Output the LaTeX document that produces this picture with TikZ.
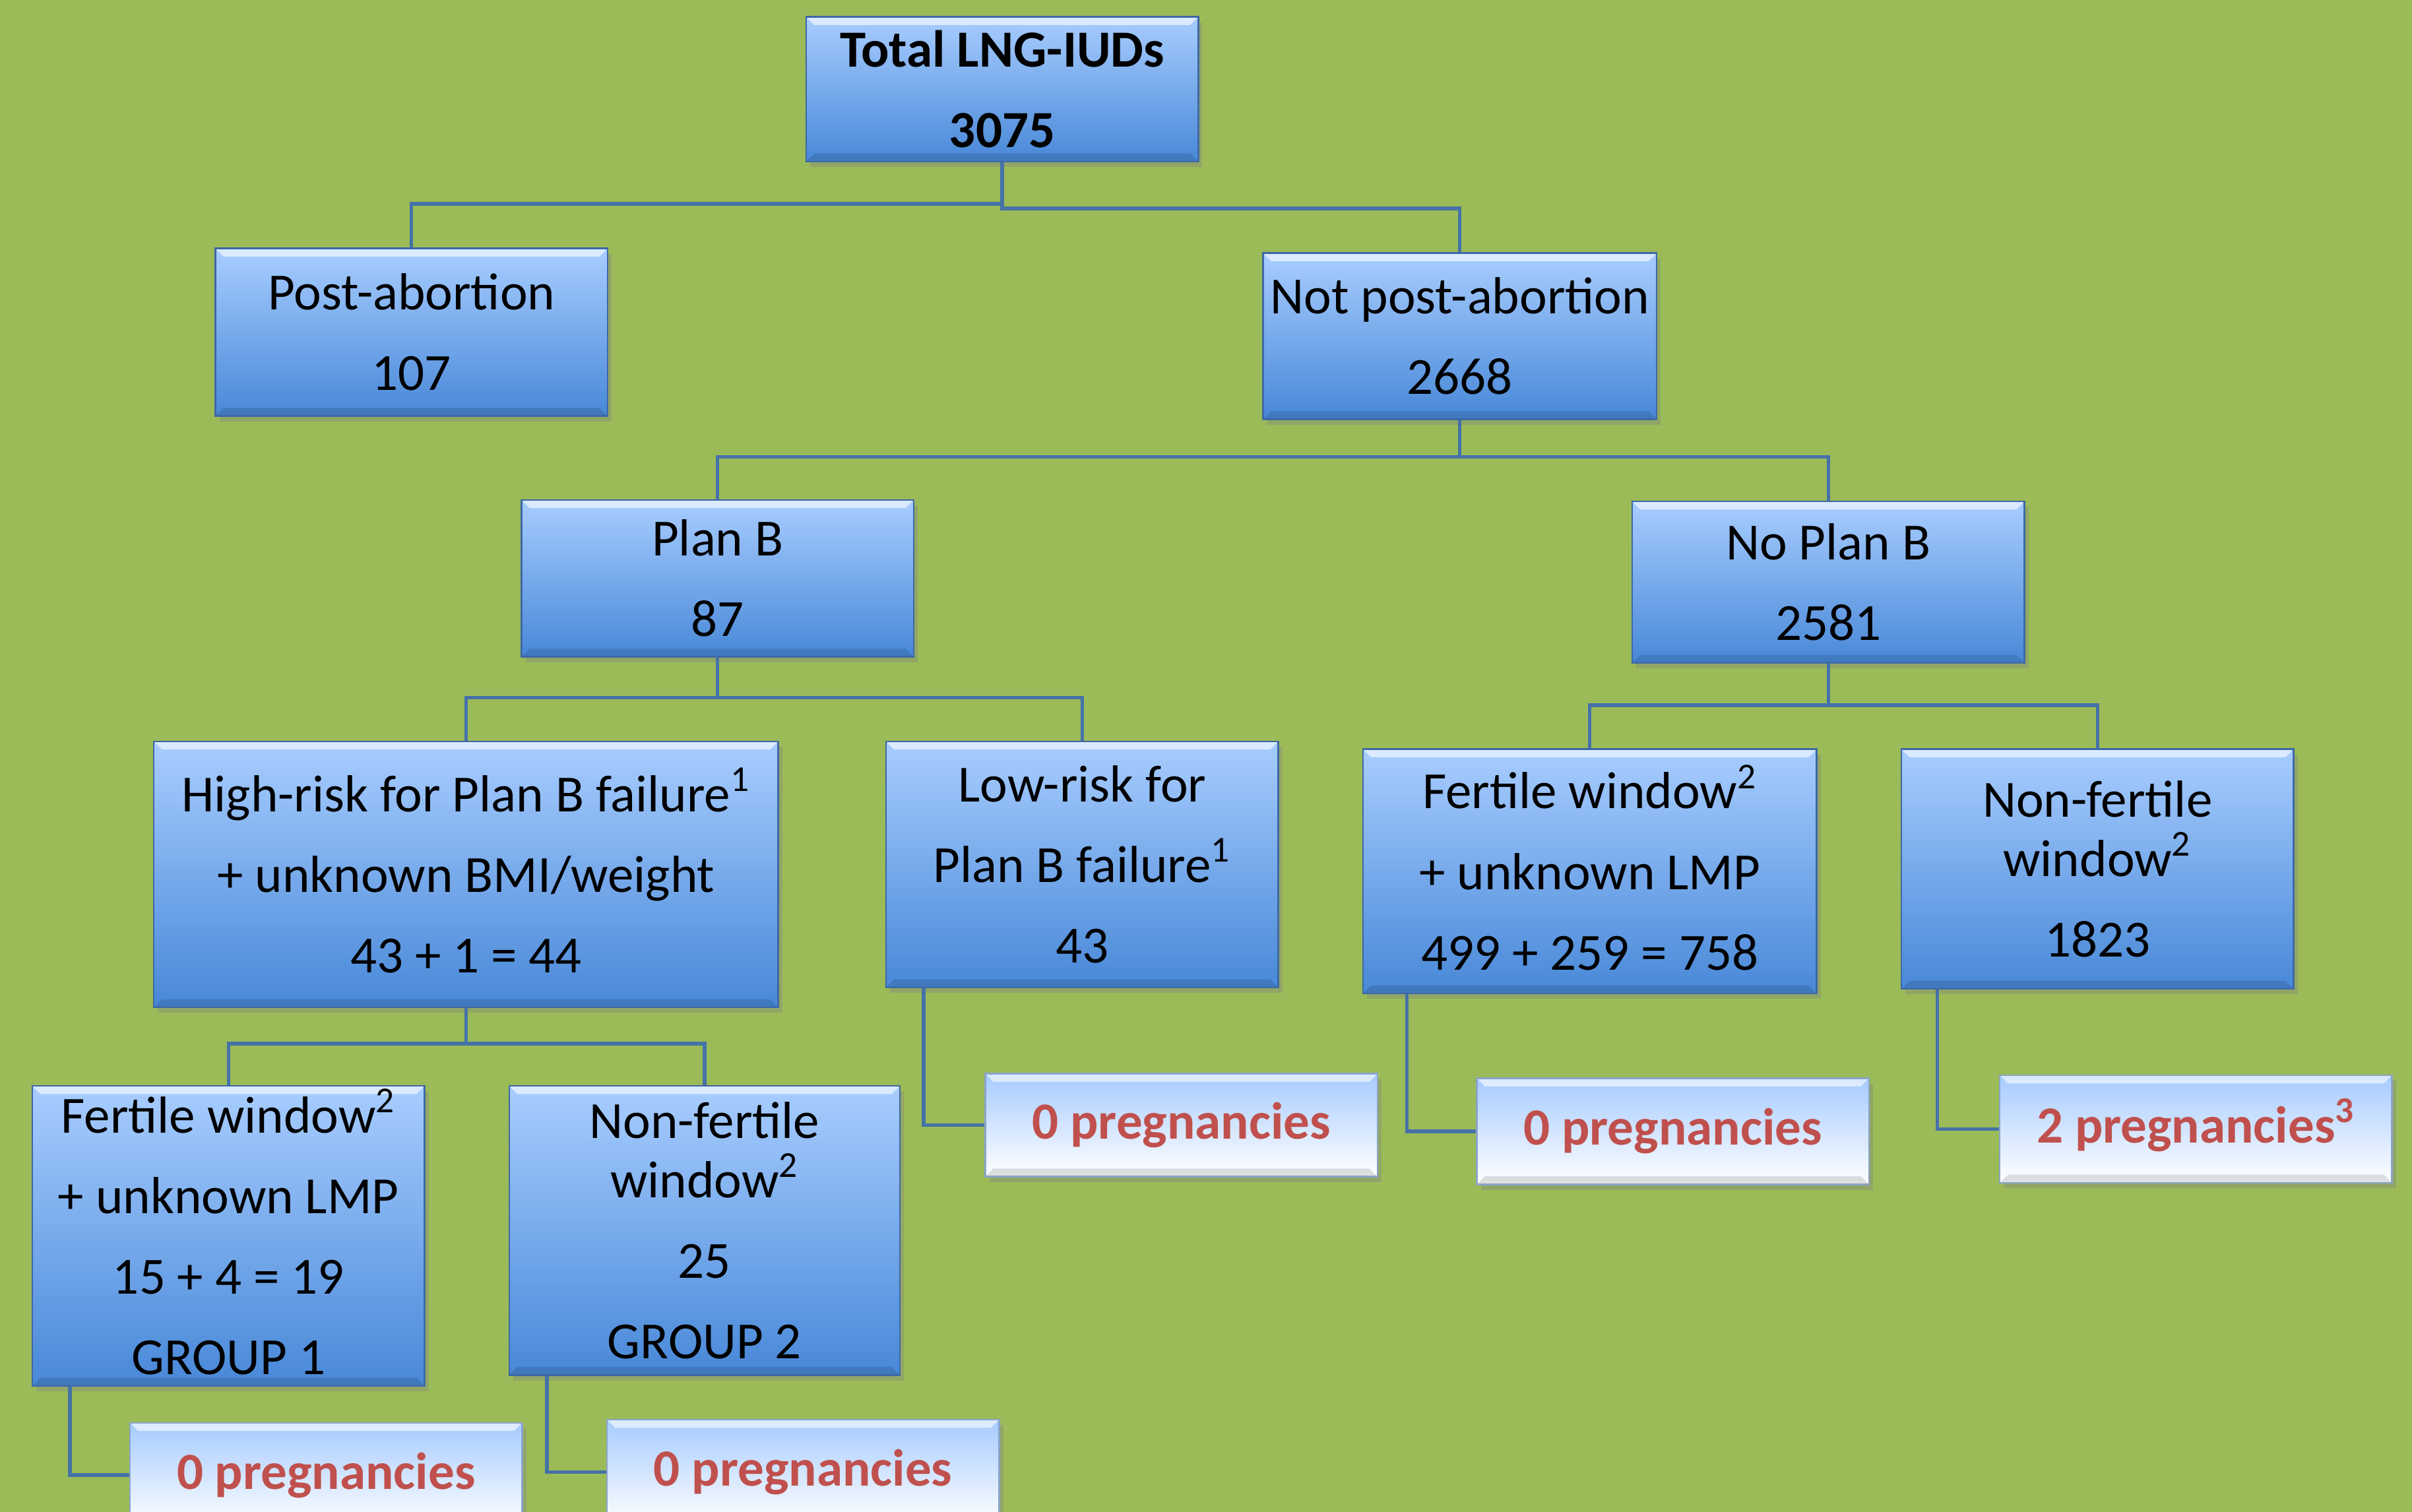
\documentclass[tikz,border=0pt]{standalone}
\usepackage{fontspec}
\setmainfont{Carlito}
\usetikzlibrary{shadows}

\definecolor{bggreen}{RGB}{155,187,89}
\definecolor{boxtop}{RGB}{168,205,255}
\definecolor{boxmid}{RGB}{130,178,243}
\definecolor{boxbot}{RGB}{72,136,216}
\definecolor{boxline}{RGB}{62,104,165}
\definecolor{linkblue}{RGB}{69,114,167}
\definecolor{pregtop}{RGB}{166,203,255}
\definecolor{pregred}{RGB}{192,80,77}

\newcommand{\fnmark}[1]{\smash{\textsuperscript{#1}}}

\begin{document}
\begin{tikzpicture}[x = 0.02cm, y = -0.02cm,
  every node/.style = {font = \fontsize{19.3}{21.8}\selectfont},
  bevelled/.style = {path picture = {
    \fill[white, opacity = 0.6] (path picture bounding box.north west) -- (path picture bounding box.north east)
      -- ([xshift = -3pt, yshift = -3pt]path picture bounding box.north east) -- ([xshift = 3pt, yshift = -3pt]path picture bounding box.north west) -- cycle;
    \fill[black, opacity = 0.12] (path picture bounding box.south west) -- (path picture bounding box.south east)
      -- ([xshift = -3pt, yshift = 3pt]path picture bounding box.south east) -- ([xshift = 3pt, yshift = 3pt]path picture bounding box.south west) -- cycle;}},
  bluebox/.style = {draw = boxline, line width = 0.6pt, top color = boxtop, middle color = boxmid, bottom color = boxbot,
    align = center, inner sep = 0pt, bevelled, drop shadow = {shadow xshift = 1.5pt, shadow yshift = -2pt, opacity = 0.35}},
  pregbox/.style = {draw = boxline!60, line width = 0.6pt, top color = pregtop, bottom color = white,
    text = pregred, font = \fontsize{19.3}{21.8}\selectfont\bfseries, inner sep = 0pt, bevelled,
    minimum width = 5.1cm, drop shadow = {shadow xshift = 1.5pt, shadow yshift = -2pt, opacity = 0.35}},
  link/.style = {draw = linkblue, line width = 1.3pt}]

\useasboundingbox (0,0) rectangle (1568,983);
\clip (0,0) rectangle (1568,983);
\fill[bggreen] (0,0) rectangle (1568,983);

% top of the tree
\node[bluebox, minimum width = 5.1cm, minimum height = 1.88cm, font = \fontsize{19.3}{21.8}\selectfont\bfseries] (total) at (651.5,58) {Total LNG-IUDs\\[8pt]3075};
\node[bluebox, minimum width = 5.1cm, minimum height = 2.18cm] (post) at (267.5,216) {Post-abortion\\[8pt]107};
\node[bluebox, minimum width = 5.12cm, minimum height = 2.16cm] (notpost) at (949,218.5) {Not post-abortion\\[8pt]2668};
\node[bluebox, minimum width = 5.1cm, minimum height = 2.04cm] (planb) at (466.5,376) {Plan B\\[8pt]87};
\node[bluebox, minimum width = 5.1cm, minimum height = 2.1cm] (noplanb) at (1188.5,378.5) {No Plan B\\[8pt]2581};

% risk and window groups
\node[bluebox, minimum width = 8.12cm, minimum height = 3.46cm] (high) at (303,568.5) {High-risk for Plan B failure\fnmark{1}\\[8pt]+ unknown BMI/weight\\[8pt]43 + 1 = 44};
\node[bluebox, minimum width = 5.1cm, minimum height = 3.2cm] (low) at (703.5,562) {Low-risk for\\[8pt]Plan B failure\fnmark{1}\\[8pt]43};
\node[bluebox, minimum width = 5.9cm, minimum height = 3.18cm] (fertR) at (1033.5,566.5) {Fertile window\fnmark{2}\\[8pt]+ unknown LMP\\[8pt]499 + 259 = 758};
\node[bluebox, minimum width = 5.1cm, minimum height = 3.12cm] (nonfertR) at (1363.5,565) {Non-fertile\\window\fnmark{2}\\[8pt]1823};
\node[bluebox, minimum width = 5.1cm, minimum height = 3.9cm] (fertL) at (148.5,803.5) {Fertile window\fnmark{2}\\[8pt]+ unknown LMP\\[8pt]15 + 4 = 19\\[8pt]GROUP 1};
\node[bluebox, minimum width = 5.08cm, minimum height = 3.76cm] (nonfertL) at (458,800) {Non-fertile\\window\fnmark{2}\\[8pt]25\\[8pt]GROUP 2};

% outcomes
\node[pregbox, minimum height = 1.34cm] (pregLow) at (768,731.5) {0 pregnancies};
\node[pregbox, minimum height = 1.38cm] (pregFR) at (1087.5,735.5) {0 pregnancies};
\node[pregbox, minimum height = 1.4cm] (pregNFR) at (1427.5,734) {2 pregnancies\fnmark{3}};
\node[pregbox, minimum height = 1.36cm] (pregFL) at (212,959) {0 pregnancies};
\node[pregbox, minimum height = 1.36cm] (pregNFL) at (522,957) {0 pregnancies};

% connectors
\draw[link] (total.south) -- ++(0,27) -| (post.north);
\draw[link] (total.south) -- ++(0,30) -| (notpost.north);
\draw[link] (notpost.south) -- ++(0,24) -| (planb.north);
\draw[link] (notpost.south) -- ++(0,24) -| (noplanb.north);
\draw[link] (planb.south) -- ++(0,26) -| (high.north);
\draw[link] (planb.south) -- ++(0,26) -| (low.north);
\draw[link] (noplanb.south) -- ++(0,27) -| (fertR.north);
\draw[link] (noplanb.south) -- ++(0,27) -| (nonfertR.north);
\draw[link] (high.south) -- ++(0,23) -| (fertL.north);
\draw[link] (high.south) -- ++(0,23) -| (nonfertL.north);
\draw[link] ([xshift = 0.5cm]low.south west) |- (pregLow.west);
\draw[link] ([xshift = 0.58cm]fertR.south west) |- (pregFR.west);
\draw[link] ([xshift = 0.48cm]nonfertR.south west) |- (pregNFR.west);
\draw[link] ([xshift = 0.5cm]fertL.south west) |- (pregFL.west);
\draw[link] ([xshift = 0.5cm]nonfertL.south west) |- (pregNFL.west);
\end{tikzpicture}
\end{document}
